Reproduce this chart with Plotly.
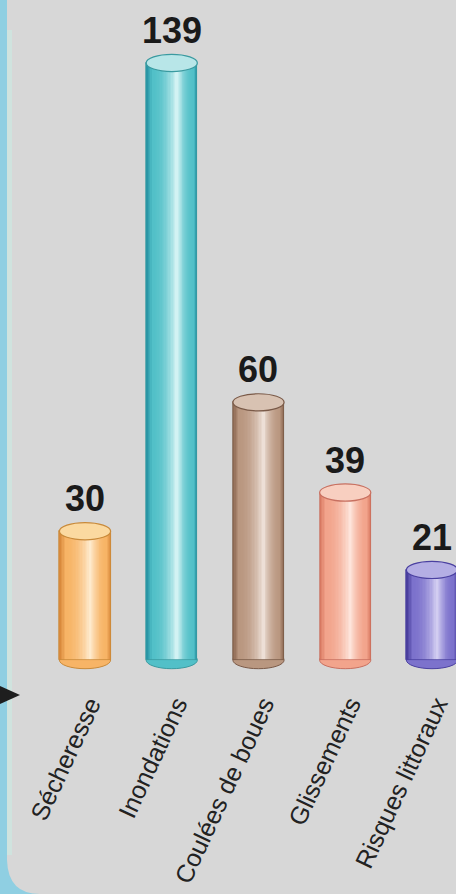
import plotly.graph_objects as go

categories = ["Sécheresse", "Inondations", "Coulées de boues", "Glissements", "Risques littoraux"]
values = [30, 139, 60, 39, 21]
value_labels = ["30", "139", "60", "39", "21"]

# per-bar palette: dark edge, base, highlight, top fill, rim
dark_cols = ["#d98a3c", "#2a96a6", "#8e6a54", "#d97a62", "#4a3f9e"]
base_cols = ["#f7b466", "#52c0c8", "#b99780", "#f2a48c", "#7c72cc"]
light_cols = ["#fff0d8", "#e2f8f8", "#f3e8e0", "#ffece4", "#dcd8f6"]
top_cols = ["#fbd9a0", "#b8e6e8", "#d8c2b2", "#f8cfc0", "#b4aee4"]
rim_cols = ["#c98a3a", "#3a9aa0", "#7a5a48", "#c87060", "#4a40a0"]

W, H = 456, 894
ML, MR, MT, MB = 0, 0, 0, 221
PLOT_H = H - MT - MB
BAR_W = 0.59
HL = 0.6
K = 22
Y_RANGE = [-3, 153.65]
X_RANGE = [-0.98, 4.277]
ELL = 2.0  # half-height of ellipse caps in data units


def hex2rgb(h):
    h = h.lstrip("#")
    return tuple(int(h[i:i + 2], 16) for i in (0, 2, 4))


def mix(c1, c2, t):
    a, b = hex2rgb(c1), hex2rgb(c2)
    return "rgb(%d,%d,%d)" % tuple(round(a[i] + (b[i] - a[i]) * t) for i in range(3))


def shade(i, f):
    if f < 0.18:
        return mix(dark_cols[i], base_cols[i], f / 0.18)
    return mix(base_cols[i], light_cols[i], ((f - 0.18) / 0.82) ** 2)


xs = list(range(len(categories)))
fig = go.Figure()

for k in range(K):
    f = k / K
    a = f * HL
    b = 1 - f * (1 - HL)
    fig.add_trace(go.Bar(
        x=xs, y=values, base=0,
        width=(b - a) * BAR_W,
        offset=-BAR_W / 2 + a * BAR_W,
        marker=dict(color=[shade(i, f) for i in xs], line=dict(width=0)),
        showlegend=False, hoverinfo="skip",
    ))

# thin outline of body
fig.add_trace(go.Bar(
    x=xs, y=values, width=BAR_W,
    marker=dict(color="rgba(0,0,0,0)", line=dict(color=rim_cols, width=0.8)),
    showlegend=False, hoverinfo="skip",
))

shapes = []
for i, v in zip(xs, values):
    # bottom rounded cap (under the body)
    shapes.append(dict(type="circle", xref="x", yref="y", layer="below",
                       x0=i - BAR_W / 2, x1=i + BAR_W / 2, y0=-ELL, y1=ELL,
                       fillcolor=base_cols[i], line=dict(color=rim_cols[i], width=1)))
    # top ellipse
    shapes.append(dict(type="circle", xref="x", yref="y", layer="above",
                       x0=i - BAR_W / 2, x1=i + BAR_W / 2, y0=v - ELL, y1=v + ELL,
                       fillcolor=top_cols[i], line=dict(color=rim_cols[i], width=1.2)))


def px(x):
    return x / W


def py(y):
    return 1 - (y - MT) / PLOT_H


# left frame strip and bottom-left rounded corner
shapes.append(dict(type="path", xref="paper", yref="paper", layer="below",
                   path=f"M {px(0)},{py(0)} L {px(7)},{py(0)} L {px(7)},{py(860)} "
                        f"Q {px(8)},{py(894)} {px(40)},{py(894)} L {px(0)},{py(894)} Z",
                   fillcolor="#8fcfe2", line=dict(width=0)))
shapes.append(dict(type="rect", xref="paper", yref="paper", layer="below",
                   x0=px(7), x1=px(12), y0=py(855), y1=py(30),
                   fillcolor="#cfe3de", line=dict(width=0)))
# small black arrow tip at left
shapes.append(dict(type="path", xref="paper", yref="paper", layer="above",
                   path=f"M {px(0)},{py(686)} L {px(20)},{py(695)} L {px(0)},{py(704)} Z",
                   fillcolor="#1e1e1e", line=dict(width=0)))

annotations = []
for i, v, t in zip(xs, values, value_labels):
    annotations.append(dict(x=i, y=v, xref="x", yref="y", text=f"<b>{t}</b>",
                            showarrow=False, yanchor="bottom", yshift=10,
                            font=dict(family="Liberation Sans, Arial", size=36, color="#1a1a1a")))

fig.update_layout(
    width=W, height=H,
    margin=dict(l=ML, r=MR, t=MT, b=MB, pad=0, autoexpand=False),
    paper_bgcolor="#d7d7d7", plot_bgcolor="#d7d7d7",
    barmode="overlay", bargap=0,
    shapes=shapes, annotations=annotations,
    showlegend=False,
    xaxis=dict(range=X_RANGE, tickvals=xs, ticktext=categories, tickangle=-65,
               automargin=False,
               showgrid=False, zeroline=False, showline=False, ticks="",
               ticklabelstandoff=11, ticklabelshift=5,
               tickfont=dict(family="Liberation Sans, Arial", size=25, color="#222222")),
    yaxis=dict(range=Y_RANGE, visible=False, showgrid=False, zeroline=False,
               automargin=False),
)

fig.write_html("out.html", config={"displayModeBar": False},
               post_script="document.body.style.margin='0';document.body.style.overflow='hidden';")
